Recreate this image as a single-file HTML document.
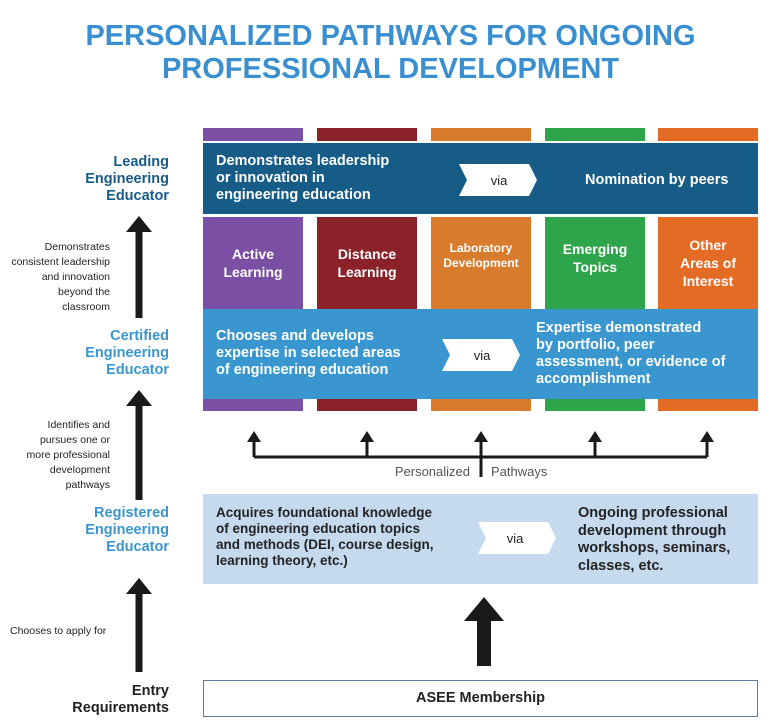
<!DOCTYPE html>
<html><head><meta charset="utf-8"><style>
*{margin:0;padding:0;box-sizing:border-box}
body{width:781px;height:720px;background:#fff;position:relative;overflow:hidden;font-family:"Liberation Sans",sans-serif}
.a{position:absolute}
.t{color:#fff;font-weight:bold}
.title{left:0;width:781px;text-align:center;color:#3a8fd0;font-weight:bold;font-size:29px;line-height:33px;top:20px}
.lab{right:612px;text-align:right;font-weight:bold;font-size:14.5px;line-height:17px}
.sm{right:671px;text-align:right;font-size:10.5px;line-height:15px;color:#222}
.col{top:217px;height:92px;width:100px;text-align:center;font-size:14px;line-height:18px;display:flex;align-items:center;justify-content:center;color:#fff;font-weight:bold}
</style></head><body>
<div class="a title">PERSONALIZED PATHWAYS FOR ONGOING<br>PROFESSIONAL DEVELOPMENT</div>

<div class="a" style="left:203px;top:128px;width:100px;height:13px;background:#7b4fa3"></div>
<div class="a" style="left:317px;top:128px;width:100px;height:13px;background:#8b2229"></div>
<div class="a" style="left:431px;top:128px;width:100px;height:13px;background:#d97b2c"></div>
<div class="a" style="left:545px;top:128px;width:100px;height:13px;background:#2ea54a"></div>
<div class="a" style="left:658px;top:128px;width:100px;height:13px;background:#e36b24"></div>
<div class="a" style="left:203px;top:399px;width:100px;height:12px;background:#7b4fa3"></div>
<div class="a" style="left:317px;top:399px;width:100px;height:12px;background:#8b2229"></div>
<div class="a" style="left:431px;top:399px;width:100px;height:12px;background:#d97b2c"></div>
<div class="a" style="left:545px;top:399px;width:100px;height:12px;background:#2ea54a"></div>
<div class="a" style="left:658px;top:399px;width:100px;height:12px;background:#e36b24"></div>

<div class="a" style="left:203px;top:143px;width:555px;height:71px;background:#175c87"></div>
<div class="a t" style="left:216px;top:153px;font-size:14.5px;line-height:17px">Demonstrates leadership<br>or innovation in<br>engineering education</div>
<div class="a t" style="left:585px;top:172px;font-size:14.5px">Nomination by peers</div>

<div class="a col" style="left:203px;background:#7b4fa3">Active<br>Learning</div>
<div class="a col" style="left:317px;background:#8b2229">Distance<br>Learning</div>
<div class="a col" style="left:431px;background:#d97b2c;font-size:12px;line-height:15px;padding-bottom:14px">Laboratory<br>Development</div>
<div class="a col" style="left:545px;background:#2ea54a;padding-bottom:10px">Emerging<br>Topics</div>
<div class="a col" style="left:658px;background:#e36b24">Other<br>Areas of<br>Interest</div>

<div class="a" style="left:203px;top:309px;width:555px;height:90px;background:#3a96cf"></div>
<div class="a t" style="left:216px;top:328px;font-size:14.5px;line-height:17px">Chooses and develops<br>expertise in selected areas<br>of engineering education</div>
<div class="a t" style="left:536px;top:320px;font-size:14.5px;line-height:17px">Expertise demonstrated<br>by portfolio, peer<br>assessment, or evidence of<br>accomplishment</div>

<div class="a" style="left:203px;top:494px;width:555px;height:90px;background:#c5daee"></div>
<div class="a" style="left:216px;top:505px;font-size:13.5px;line-height:16px;font-weight:bold;color:#222">Acquires foundational knowledge<br>of engineering education topics<br>and methods (DEI, course design,<br>learning theory, etc.)</div>
<div class="a" style="left:578px;top:505px;font-size:14.5px;line-height:17.5px;font-weight:bold;color:#222">Ongoing professional<br>development through<br>workshops, seminars,<br>classes, etc.</div>

<div class="a" style="left:203px;top:680px;width:555px;height:37px;border:1.5px solid #5b7b99;text-align:center;font-weight:bold;font-size:14.5px;line-height:34px;color:#222">ASEE Membership</div>

<svg class="a" style="left:0;top:0" width="781" height="720">
<g fill="#fff">
<polygon points="459,164 529,164 537,180 529,196 459,196 467,180"/>
<polygon points="442,339 512,339 520,355 512,371 442,371 450,355"/>
<polygon points="478,522 548,522 556,538 548,554 478,554 486,538"/>
</g>
<g font-family="Liberation Sans,sans-serif" font-size="13" text-anchor="middle">
<text x="499" y="185" fill="#222">via</text>
<text x="482" y="360" fill="#222">via</text>
<text x="515" y="543" fill="#222">via</text>
</g>
<g stroke="#1a1a1a" stroke-width="3" fill="none">
<path d="M254,457 H707 M254,457 V440 M367,457 V440 M481,477 V440 M595,457 V440 M707,457 V440"/>
</g>
<g fill="#1a1a1a">
<polygon points="247,442 254,431 261,442"/><polygon points="360,442 367,431 374,442"/>
<polygon points="474,442 481,431 488,442"/><polygon points="588,442 595,431 602,442"/>
<polygon points="700,442 707,431 714,442"/>
</g>
<text x="470" y="476" font-family="Liberation Sans,sans-serif" font-size="13" fill="#555" text-anchor="end">Personalized</text>
<text x="491" y="476" font-family="Liberation Sans,sans-serif" font-size="13" fill="#555">Pathways</text>
<polygon fill="#1a1a1a" points="464,621 484,597 504,621 491,621 491,666 477,666 477,621"/>
<g fill="#1a1a1a">
<polygon points="126,232 139,216 152,232 142.5,232 142.5,318 135.5,318 135.5,232"/>
<polygon points="126,406 139,390 152,406 142.5,406 142.5,500 135.5,500 135.5,406"/>
<polygon points="126,594 139,578 152,594 142.5,594 142.5,672 135.5,672 135.5,594"/>
</g>
</svg>

<div class="a lab" style="top:154px;color:#175c87">Leading<br>Engineering<br>Educator</div>
<div class="a lab" style="top:328px;color:#3a96cf">Certified<br>Engineering<br>Educator</div>
<div class="a lab" style="top:505px;color:#3a96cf">Registered<br>Engineering<br>Educator</div>
<div class="a lab" style="top:683px;color:#222">Entry<br>Requirements</div>
<div class="a sm" style="top:240px">Demonstrates<br>consistent leadership<br>and innovation<br>beyond the<br>classroom</div>
<div class="a sm" style="top:418px">Identifies and<br>pursues one or<br>more professional<br>development<br>pathways</div>
<div class="a" style="left:10px;top:625px;font-size:10.5px;color:#222">Chooses to apply for</div>
</body></html>
